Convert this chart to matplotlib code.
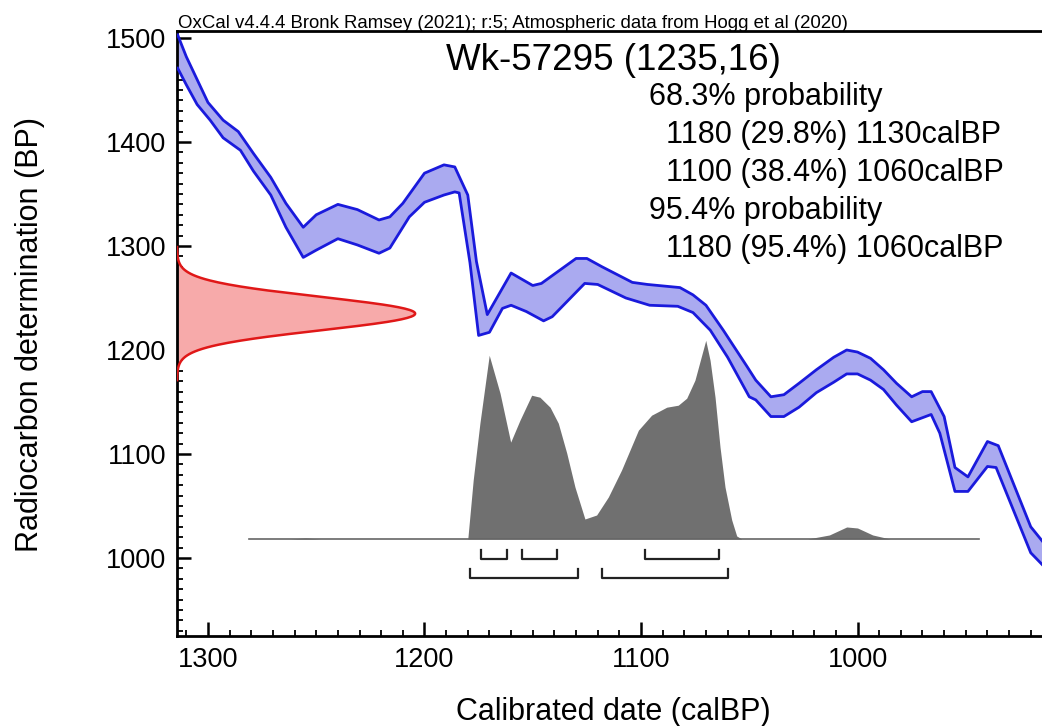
import numpy as np
import matplotlib
matplotlib.use('Agg')
from matplotlib import pyplot as plt
from matplotlib.ticker import MultipleLocator

plt.rcParams['font.family'] = ['Liberation Sans', 'DejaVu Sans']

# measurement
lab_code = 'Wk-57295'
r_date = 1235
r_err = 16

# calibration curve band (calBP vs BP), upper and lower edge
upper_cal = [1314, 1310, 1305, 1300, 1293, 1286, 1279, 1271, 1264, 1256, 1250, 1240, 1231, 1221, 1216,
             1210, 1200, 1191, 1186, 1180, 1176, 1171, 1160, 1150, 1146, 1130, 1125, 1118, 1104, 1097,
             1082, 1076, 1070, 1062, 1051, 1047, 1040, 1034, 1027, 1019, 1011, 1005, 1000, 994, 988,
             982, 975, 970, 966, 960, 955, 949, 940, 935, 920, 913]
upper_bp = [1503, 1482, 1460, 1438, 1421, 1410, 1389, 1366, 1341, 1318, 1330, 1340, 1335, 1325, 1328,
            1341, 1370, 1378, 1376, 1349, 1285, 1234, 1274, 1262, 1264, 1288, 1288, 1280, 1265, 1263,
            1260, 1253, 1243, 1219, 1184, 1171, 1155, 1157, 1168, 1181, 1193, 1200, 1198, 1192, 1181,
            1168, 1155, 1160, 1160, 1136, 1087, 1078, 1112, 1108, 1030, 1012]
lower_cal = [1314, 1310, 1305, 1299, 1293, 1285, 1279, 1271, 1264, 1256, 1250, 1240, 1231, 1221, 1216,
             1207, 1200, 1191, 1186, 1184, 1179, 1175, 1170, 1164, 1160, 1153, 1145, 1141, 1126, 1120,
             1107, 1096, 1083, 1076, 1068, 1060, 1050, 1047, 1040, 1034, 1027, 1019, 1011, 1005, 1000,
             994, 988, 982, 975, 966, 962, 955, 949, 940, 936, 920, 913]
lower_bp = [1471, 1455, 1436, 1421, 1404, 1392, 1372, 1349, 1318, 1289, 1296, 1307, 1301, 1293, 1298,
            1328, 1342, 1349, 1352, 1351, 1284, 1214, 1217, 1240, 1243, 1237, 1228, 1232, 1264, 1263,
            1250, 1243, 1242, 1236, 1219, 1193, 1155, 1152, 1136, 1136, 1145, 1159, 1169, 1177, 1177,
            1171, 1162, 1147, 1131, 1138, 1120, 1064, 1064, 1088, 1087, 1005, 990]

# calibrated probability (height read in pixels, relative to the main peak)
post_cal = [1281, 1262, 1255, 1248, 1180, 1177.5, 1174.4, 1170.1, 1165.1, 1160.2, 1155.9, 1150.5,
            1146.7, 1142, 1138.2, 1134.3, 1130.5, 1125.9, 1120.5, 1115.1, 1109, 1101.2, 1095.1,
            1088.1, 1082.8, 1078.9, 1075.1, 1070.1, 1068.1, 1065.8, 1063.5, 1061.2, 1058.1, 1055.8,
            1053.5, 1023, 1013, 1005, 1000, 993, 985, 944]
post_h = [0, 0, 1, 0, 0, 59, 116, 184, 146, 97, 119, 144,
          142, 132, 116, 86, 52, 20, 24, 42, 69, 109, 124,
          132, 134, 141, 159, 199, 179, 142, 92, 52, 19, 3,
          0, 0, 4, 12, 11, 4, 0, 0]
post_rel = np.array(post_h) / max(post_h)

# ranges (brackets)
range68 = [(1174, 1162), (1155, 1139), (1098, 1064)]
range95 = [(1179, 1129), (1118, 1060)]

text_lines = ['68.3% probability',
              '  1180 (29.8%) 1130calBP',
              '  1100 (38.4%) 1060calBP',
              '95.4% probability',
              '  1180 (95.4%) 1060calBP']

xmin, xmax = 1314.3, 914.8
ymin, ymax = 925, 1506.7

fig = plt.figure(figsize=(10.42, 7.26), dpi=100)
ax = fig.add_axes([177/1042, 1-636/726, 1-177/1042, (636-31)/726])
ax.set_xlim(xmin, xmax)
ax.set_ylim(ymin, ymax)

# calibration curve
poly_x = upper_cal + lower_cal[::-1]
poly_y = upper_bp + lower_bp[::-1]
ax.fill(poly_x, poly_y, color='#aaaaf0', lw=0, zorder=2)
ax.plot(upper_cal, upper_bp, color='#1a1adc', lw=2, zorder=3)
ax.plot(lower_cal, lower_bp, color='#1a1adc', lw=2, zorder=3)

# radiocarbon date on y axis
yy = np.linspace(r_date - 4*r_err, r_date + 4*r_err, 200)
dens = np.exp(-0.5*((yy - r_date)/r_err)**2)
red_scale = 110
ax.fill_betweenx(yy, xmin, xmin - dens*red_scale, color='#f7aaaa', lw=0, zorder=2)
ax.plot(xmin - dens*red_scale, yy, color='#e01818', lw=1.8, zorder=3)

# calibrated distribution
base = 1018.3
post_scale = 191
ax.fill_between(post_cal, base, base + post_rel*post_scale, color='#707070', lw=0, zorder=4)
ax.plot([post_cal[0], post_cal[-1]], [base, base], color='#666666', lw=1.2, zorder=4)

# range brackets
def bracket(a, b, ybar, tick):
    ax.plot([a, a, b, b], [ybar+tick, ybar, ybar, ybar+tick], color='#222222', lw=1.6, zorder=5)

for a, b in range68:
    bracket(a, b, 999.0, 8.5)
for a, b in range95:
    bracket(a, b, 980.8, 8.5)

# axes styling
for s in ['left', 'bottom', 'top']:
    ax.spines[s].set_linewidth(2)
ax.spines['right'].set_visible(False)
ax.xaxis.set_major_locator(MultipleLocator(100))
ax.xaxis.set_minor_locator(MultipleLocator(10))
ax.yaxis.set_major_locator(MultipleLocator(100))
ax.yaxis.set_minor_locator(MultipleLocator(10))
ax.tick_params(which='major', direction='in', length=10, width=1.8, labelsize=19.5, pad=8)
ax.tick_params(which='minor', direction='in', length=4.5, width=1.3)
ax.tick_params(top=False, right=False, which='both')

fig.text(613/1042, 1-712/726, 'Calibrated date (calBP)', ha='center', va='center', fontsize=22)
fig.text(30/1042, 1-335/726, 'Radiocarbon determination (BP)', ha='center', va='center',
         rotation=90, fontsize=22)
fig.text(178/1042, 1-28/726, 'OxCal v4.4.4 Bronk Ramsey (2021); r:5; Atmospheric data from Hogg et al (2020)',
         ha='left', va='baseline', fontsize=13.4)
fig.text(613/1042, 1-60/726, '%s (%d,%d)' % (lab_code, r_date, r_err), ha='center', va='center', fontsize=26.5)

for i, line in enumerate(text_lines):
    fig.text(649/1042, 1-(97 + i*38)/726, line, ha='left', va='center', fontsize=22)

fig.savefig('out.png', dpi=100)
